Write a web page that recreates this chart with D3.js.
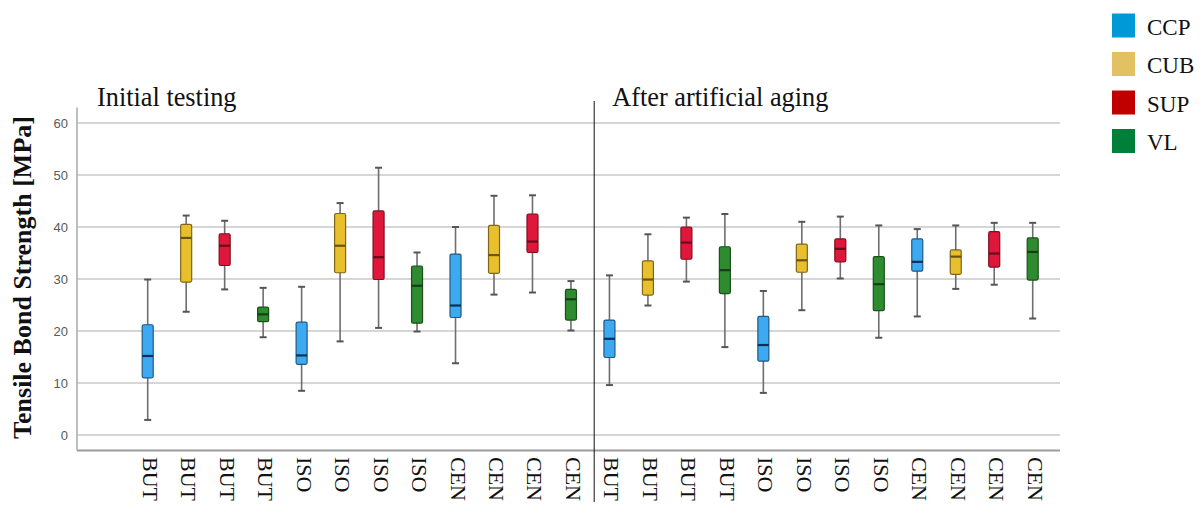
<!DOCTYPE html>
<html>
<head>
<meta charset="utf-8">
<script src="https://cdn.jsdelivr.net/npm/d3@7"></script>
<style>
  html, body { margin: 0; padding: 0; background: #ffffff; }
  svg { display: block; }
</style>
</head>
<body>
<svg id="chart" width="1204" height="506"></svg>
<script>
// ---------- data ----------
const phases = ["Initial testing", "After artificial aging"];
const methods = ["BUT", "ISO", "CEN"];
const materials = ["CCP", "CUB", "SUP", "VL"];
const yTicks = [0, 10, 20, 30, 40, 50, 60];

// one entry per box: phase x method x material (24 boxes)
const whiskerLow  = [2.9, 23.7, 28.0, 18.8,   8.5, 18.0, 20.6, 19.9,  13.8, 27.0, 27.4, 20.1,
                     9.6, 24.9, 29.5, 16.9,   8.1, 24.0, 30.1, 18.7,  22.8, 28.1, 28.9, 22.4];
const q1Values    = [11.0, 29.4, 32.6, 21.8, 13.6, 31.2, 29.9, 21.5,  22.6, 31.1, 35.1, 22.1,
                     14.9, 26.9, 33.8, 27.2, 14.2, 31.3, 33.3, 23.9,  31.5, 30.9, 32.3, 29.8];
const medianValues= [15.2, 37.9, 36.4, 23.2, 15.3, 36.4, 34.2, 28.7,  24.9, 34.6, 37.2, 26.1,
                     18.5, 29.9, 37.0, 31.7, 17.3, 33.6, 35.8, 29.0,  33.3, 34.3, 34.9, 35.2];
const q3Values    = [21.2, 40.5, 38.7, 24.6, 21.7, 42.6, 43.1, 32.5,  34.8, 40.3, 42.5, 28.0,
                     22.1, 33.5, 40.0, 36.2, 22.8, 36.7, 37.7, 34.3,  37.7, 35.6, 39.1, 37.9];
const whiskerHigh = [29.9, 42.2, 41.2, 28.3, 28.5, 44.6, 51.4, 35.1,  40.0, 46.0, 46.1, 29.6,
                     30.7, 38.6, 41.8, 42.5, 27.7, 41.0, 42.0, 40.3,  39.6, 40.3, 40.8, 40.8];

// ---------- styles ----------
const boxFill   = {CCP: "#3da9f1", CUB: "#e8bf2c", SUP: "#df173b", VL: "#2f8b2f"};
const boxStroke = {CCP: "#1d5a88", CUB: "#806616", SUP: "#7c1022", VL: "#1c4f1c"};
const medColor  = {CCP: "#0b2f57", CUB: "#6b5410", SUP: "#680b1c", VL: "#173d17"};
const legendFill= {CCP: "#0099d8", CUB: "#e1c162", SUP: "#c00000", VL: "#007f3b"};
const serif = "'Liberation Serif', 'Times New Roman', serif";

// ---------- build records ----------
const boxes = [];
phases.forEach((ph, pi) => methods.forEach((m, mi) => materials.forEach((mat, ki) => {
  const i = pi * 12 + mi * 4 + ki;
  boxes.push({
    key: i, phase: ph, method: m, material: mat,
    lo: whiskerLow[i], q1: q1Values[i], med: medianValues[i], q3: q3Values[i], hi: whiskerHigh[i]
  });
})));

const svg = d3.select("#chart");

// ---------- scales ----------
const y = d3.scaleLinear().domain([-3, 63]).range([450.6, 107.4]);
const x = d3.scalePoint().domain(boxes.map(d => d.key)).range([147.7, 1032.7]);
const plotLeft = 77, plotRight = 1060;

// ---------- gridlines ----------
svg.append("g").selectAll("line").data(yTicks).join("line")
  .attr("x1", plotLeft).attr("x2", plotRight)
  .attr("y1", d => y(d)).attr("y2", d => y(d))
  .attr("stroke", "#d6d6d6").attr("stroke-width", 2);

// y axis
const yAxis = d3.axisLeft(y).tickValues(yTicks).tickSize(0).tickPadding(9);
const gy = svg.append("g").attr("transform", `translate(${plotLeft},0)`).call(yAxis);
gy.select(".domain").remove();
gy.selectAll("text").attr("fill", "#5a5a5a").attr("font-family", "Arial, 'Liberation Sans', sans-serif")
  .attr("font-size", 13);
svg.append("line").attr("x1", plotLeft).attr("x2", plotLeft)
  .attr("y1", y(63)).attr("y2", y(-3)).attr("stroke", "#a8a8a8").attr("stroke-width", 1.5);
svg.append("line").attr("x1", plotLeft).attr("x2", plotRight)
  .attr("y1", y(-3)).attr("y2", y(-3)).attr("stroke", "#9c9c9c").attr("stroke-width", 2);

// ---------- boxes ----------
const bw = 11, cw = 7;
const g = svg.append("g").selectAll("g").data(boxes).join("g")
  .attr("transform", d => `translate(${x(d.key)},0)`);
g.append("line").attr("x1", 0).attr("x2", 0)
  .attr("y1", d => y(d.hi)).attr("y2", d => y(d.lo))
  .attr("stroke", "#6e6e6e").attr("stroke-width", 1.6);
g.append("line").attr("x1", -cw / 2).attr("x2", cw / 2)
  .attr("y1", d => y(d.hi)).attr("y2", d => y(d.hi))
  .attr("stroke", "#555").attr("stroke-width", 2);
g.append("line").attr("x1", -cw / 2).attr("x2", cw / 2)
  .attr("y1", d => y(d.lo)).attr("y2", d => y(d.lo))
  .attr("stroke", "#555").attr("stroke-width", 2);
g.append("rect").attr("x", -bw / 2).attr("width", bw)
  .attr("y", d => y(d.q3)).attr("height", d => y(d.q1) - y(d.q3))
  .attr("rx", 1.5)
  .attr("fill", d => boxFill[d.material]).attr("stroke", d => boxStroke[d.material]).attr("stroke-width", 1.2);
g.append("line").attr("x1", -bw / 2).attr("x2", bw / 2)
  .attr("y1", d => y(d.med)).attr("y2", d => y(d.med))
  .attr("stroke", d => medColor[d.material]).attr("stroke-width", 2.2);

// ---------- separator ----------
const sepX = (x(11) + x(12)) / 2 + 4;
svg.append("line").attr("x1", sepX).attr("x2", sepX).attr("y1", 101).attr("y2", 502)
  .attr("stroke", "#111").attr("stroke-width", 1);

// ---------- phase headings ----------
svg.append("text").attr("x", plotLeft + 20).attr("y", 106).text(phases[0])
  .attr("font-family", serif).attr("font-size", 26.3).attr("fill", "#111");
svg.append("text").attr("x", sepX + 18).attr("y", 106).text(phases[1])
  .attr("font-family", serif).attr("font-size", 26.3).attr("fill", "#111");

// ---------- x labels ----------
svg.append("g").selectAll("text").data(boxes).join("text")
  .attr("transform", d => `translate(${x(d.key) - 5},457) rotate(90)`)
  .attr("font-family", serif).attr("font-size", 22).attr("fill", "#111")
  .text(d => d.method);

// ---------- y title ----------
svg.append("text")
  .attr("transform", `translate(31,277.5) rotate(-90)`)
  .attr("text-anchor", "middle")
  .attr("font-family", serif).attr("font-weight", "bold").attr("font-size", 26).attr("fill", "#111")
  .text("Tensile Bond Strength [MPa]");

// ---------- legend ----------
const lg = svg.append("g").selectAll("g").data(materials).join("g")
  .attr("transform", (d, i) => `translate(1112,${13.5 + i * 38.5})`);
lg.append("rect").attr("width", 23).attr("height", 24).attr("fill", d => legendFill[d]);
lg.append("text").attr("x", 35).attr("y", 21).text(d => d)
  .attr("font-family", serif).attr("font-size", 23).attr("fill", "#111");
</script>
</body>
</html>
